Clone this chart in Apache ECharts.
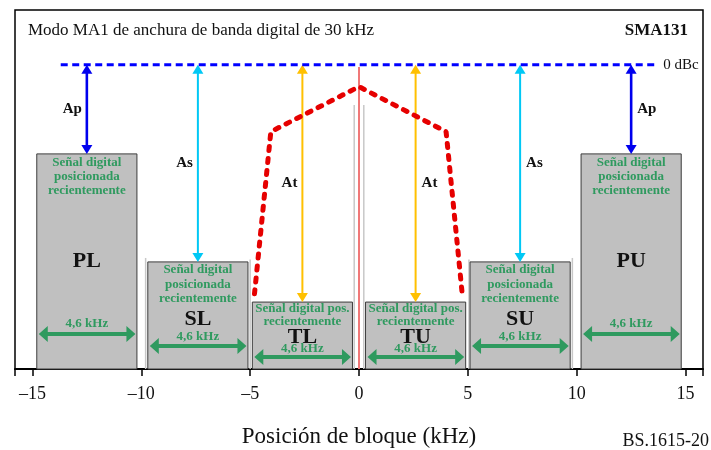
<!DOCTYPE html>
<html>
<head>
<meta charset="utf-8">
<script src="https://cdn.jsdelivr.net/npm/echarts@6.0.0/dist/echarts.min.js"></script>
<style>
  html, body { margin: 0; background: #fff; }
  #main { width: 711px; height: 450px; }
</style>
</head>
<body>
<div id="main"></div>
<script>
// bloques digitales (kHz) y nivel superior (dB relativos, 0 = 0 dBc)
var boxNames = ['PL', 'SL', 'TL', 'TU', 'SU', 'PU'];
var boxStart = [-14.8, -9.7, -4.9, 0.3, 5.1, 10.2];
var boxEnd = [-10.2, -5.1, -0.3, 4.9, 9.7, 14.8];
var boxTop = [-29.3, -64.8, -78, -78, -64.8, -29.3];
var levelNames = ['Ap', 'As', 'At', 'At', 'As', 'Ap'];
var bandLabel = '4,6 kHz';

// espectro analogico (linea roja punteada)
var spectrumX = [-4.8, -4.05, 0, 4.0, 4.75];
var spectrumY = [-75.3, -22, -7.2, -22, -76];

// lineas grises finas entre bloques
var guideX = [-9.8, -5.0, -0.22, 0.22, 5.05, 9.8];
var guideTop = [-63.5, -64, -13.2, -13.2, -64, -63.5];

// portadora central
var carrierX = [0, 0];
var carrierY = [-0.7, -100];

// linea de referencia 0 dBc
var refX = [-13.7, 13.7];
var refY = [0, 0];

var tickValues = [-15, -10, -5, 0, 5, 10, 15];
var xMin = -15.8, xMax = 15.8, floorLevel = -100, yMax = 18;

var serif = '"Liberation Serif", "DejaVu Serif", serif';
var green = '#2f9a5f';
var levelColors = { Ap: '#0000ee', As: '#00c8f5', At: '#ffc000' };
var layouts = {
  P: { lines: ['Señal digital', 'posicionada', 'recientemente'], first: 9, gap: 14, name: null, khz: 45, arrow: 35 },
  S: { lines: ['Señal digital', 'posicionada', 'recientemente'], first: 8, gap: 14.5, name: 50, khz: 32, arrow: 23 },
  T: { lines: ['Señal digital pos.', 'recientemente'], first: 7, gap: 13, name: 32, khz: 20, arrow: 12 }
};

var myChart = echarts.init(document.getElementById('main'));

function widthArrow(x0, x1, y) {
  var hl = 9, hh = 8, sh = 2;
  return {
    type: 'polygon',
    shape: { points: [
      [x0, y], [x0 + hl, y - hh], [x0 + hl, y - sh], [x1 - hl, y - sh], [x1 - hl, y - hh],
      [x1, y], [x1 - hl, y + hh], [x1 - hl, y + sh], [x0 + hl, y + sh], [x0 + hl, y + hh]
    ] },
    style: { fill: green }
  };
}

function levelArrow(x, yTop, yBot, color, name, left) {
  var hl = 9, hw = 5.5;
  return [
    { type: 'line', shape: { x1: x, y1: yTop + hl - 1, x2: x, y2: yBot - hl + 1 },
      style: { stroke: color, lineWidth: name === 'Ap' ? 2.6 : 2 } },
    { type: 'polygon', shape: { points: [[x, yTop], [x - hw, yTop + hl], [x + hw, yTop + hl]] }, style: { fill: color } },
    { type: 'polygon', shape: { points: [[x, yBot], [x - hw, yBot - hl], [x + hw, yBot - hl]] }, style: { fill: color } },
    { type: 'text', x: left ? x - 5 : x + 6, y: (yTop + yBot) / 2,
      style: { text: name, fill: '#111', fontFamily: serif, fontSize: 15, fontWeight: 'bold',
        align: left ? 'right' : 'left', verticalAlign: 'middle' } }
  ];
}

function renderBox(params, api) {
  var i = params.dataIndex;
  var lt = api.coord([api.value(0), api.value(2)]);
  var rb = api.coord([api.value(1), floorLevel]);
  var ref = api.coord([0, refY[0]]);
  var x0 = lt[0], x1 = rb[0], y0 = lt[1], y1 = rb[1], cx = (x0 + x1) / 2;
  var name = boxNames[i];
  var lay = layouts[name.charAt(0)];
  var children = [
    { type: 'rect', shape: { x: x0, y: y0, width: x1 - x0, height: y1 - y0 },
      style: { fill: '#c0c0c0', stroke: '#3c3c3c', lineWidth: 1 } }
  ];
  lay.lines.forEach(function (t, k) {
    children.push({ type: 'text', x: cx, y: y0 + lay.first + k * lay.gap,
      style: { text: t, fill: green, fontFamily: serif, fontSize: 13, fontWeight: 'bold',
        align: 'center', verticalAlign: 'middle' } });
  });
  children.push({ type: 'text', x: cx, y: lay.name === null ? (y0 + y1) / 2 : y1 - lay.name,
    style: { text: name, fill: '#111', fontFamily: serif, fontSize: 22, fontWeight: 'bold',
      align: 'center', verticalAlign: 'middle' } });
  children.push({ type: 'text', x: cx, y: y1 - lay.khz,
    style: { text: bandLabel, fill: green, fontFamily: serif, fontSize: 13, fontWeight: 'bold',
      align: 'center', verticalAlign: 'middle' } });
  children.push(widthArrow(x0 + 2, x1 - 1.5, y1 - lay.arrow));
  var lvl = levelNames[i];
  children = children.concat(levelArrow(cx, ref[1], y0, levelColors[lvl], lvl, cx < ref[0]));
  return { type: 'group', children: children };
}

function renderGuide(params, api) {
  var top = api.coord([api.value(0), api.value(1)]);
  var bot = api.coord([api.value(0), floorLevel]);
  return { type: 'line', shape: { x1: top[0], y1: top[1], x2: bot[0], y2: bot[1] },
    style: { stroke: '#c8c8c8', lineWidth: 1.5 } };
}

var option = {
  animation: false,
  title: [
    { text: 'Modo MA1 de anchura de banda digital de 30 kHz', left: 28, top: 22, padding: 0,
      textStyle: { fontFamily: serif, fontSize: 17, fontWeight: 'normal', color: '#111' } },
    { text: 'SMA131', right: 23, top: 22, padding: 0,
      textStyle: { fontFamily: serif, fontSize: 17, fontWeight: 'bold', color: '#111' } },
    { text: 'BS.1615-20', right: 2, top: 432, padding: 0,
      textStyle: { fontFamily: serif, fontSize: 18, fontWeight: 'normal', color: '#111' } }
  ],
  grid: {
    left: 15, right: 8, top: 10, bottom: 81, outerBoundsMode: 'none',
    show: true, borderColor: '#000', borderWidth: 1.5
  },
  xAxis: {
    type: 'value', min: xMin, max: xMax,
    name: 'Posición de bloque (kHz)', nameLocation: 'middle', nameGap: 56,
    nameTextStyle: { fontFamily: serif, fontSize: 23, color: '#111' },
    axisLine: { onZero: false, lineStyle: { color: '#000', width: 2 } },
    axisTick: { customValues: [xMin].concat(tickValues, [xMax]), length: 7, lineStyle: { color: '#000', width: 1.5 } },
    axisLabel: {
      customValues: tickValues, margin: 16, fontFamily: serif, fontSize: 18, color: '#111',
      formatter: function (v) { return v < 0 ? '\u2013' + (-v) : String(v); }
    },
    splitLine: { show: false }
  },
  yAxis: { type: 'value', min: floorLevel, max: yMax, show: false, splitLine: { show: false } },
  series: [
    {
      name: 'guias', type: 'custom', renderItem: renderGuide, z: 1,
      data: guideX.map(function (x, i) { return [x, guideTop[i]]; })
    },
    {
      name: 'portadora', type: 'line', symbol: 'none', z: 2,
      lineStyle: { color: '#f07878', width: 2 },
      data: carrierX.map(function (x, i) { return [x, carrierY[i]]; })
    },
    {
      name: 'bloques', type: 'custom', renderItem: renderBox, z: 3,
      encode: { x: [0, 1], y: 2 },
      data: boxNames.map(function (n, i) { return [boxStart[i], boxEnd[i], boxTop[i]]; })
    },
    {
      name: 'referencia', type: 'line', symbol: 'none', z: 4,
      lineStyle: { color: '#0000ff', width: 3, type: [7, 4.5] },
      data: refX.map(function (x, i) { return [x, refY[i]]; }),
      endLabel: { show: true, formatter: '0 dBc', distance: 6, fontFamily: serif, fontSize: 15, color: '#111' }
    },
    {
      name: 'espectro', type: 'line', symbol: 'none', z: 5,
      lineStyle: { color: '#e60000', width: 5, type: [4, 8], cap: 'round' },
      data: spectrumX.map(function (x, i) { return [x, spectrumY[i]]; })
    }
  ]
};

myChart.setOption(option);
window.addEventListener('resize', function () {
  myChart.resize();
});
</script>
</body>
</html>
